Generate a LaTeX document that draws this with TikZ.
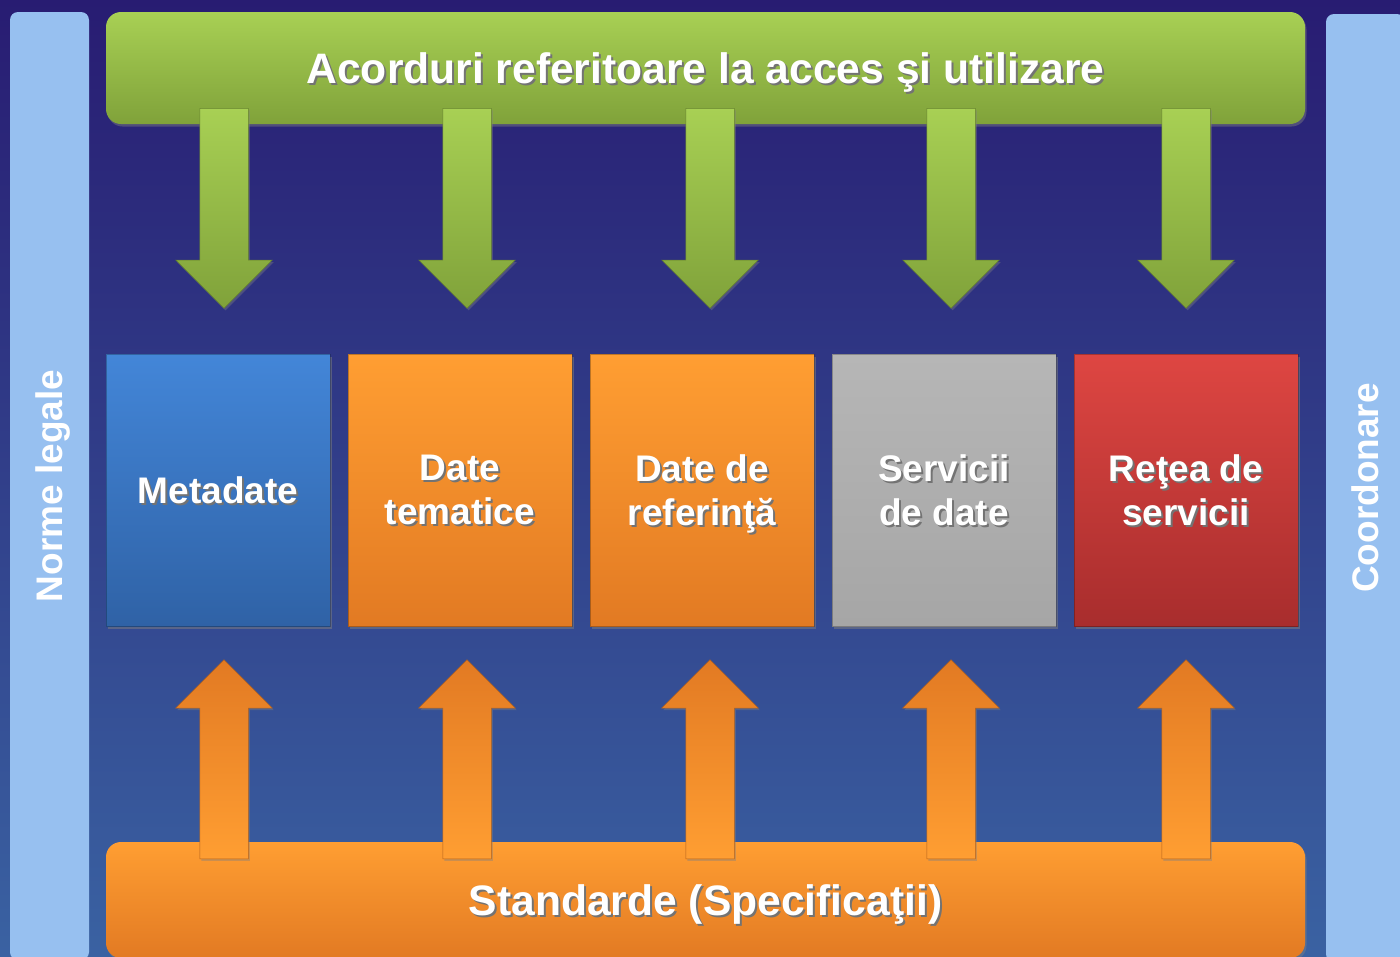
\documentclass[tikz,border=0pt]{standalone}
\usepackage{fontspec}
\setmainfont{Liberation Sans}
\usetikzlibrary{shapes.arrows,shadows}

\definecolor{bgtop}{RGB}{40,28,114}
\definecolor{bgmid}{RGB}{45,54,136}
\definecolor{bgbot}{RGB}{58,98,162}
\definecolor{sidecol}{RGB}{151,192,240}
\definecolor{greenlt}{RGB}{168,208,84}
\definecolor{greendk}{RGB}{128,162,58}
\definecolor{orangelt}{RGB}{255,158,50}
\definecolor{orangedk}{RGB}{226,122,35}
\definecolor{bluelt}{RGB}{67,134,216}
\definecolor{bluedk}{RGB}{47,98,166}
\definecolor{greylt}{RGB}{182,182,182}
\definecolor{greydk}{RGB}{166,166,166}
\definecolor{redlt}{RGB}{222,70,66}
\definecolor{reddk}{RGB}{168,45,45}

% white text with a dark shadow below it (no depth, so caps sit centred)
\newcommand{\shtext}[1]{\raisebox{0pt}[\height][0pt]{\makebox[0pt][l]{\hspace*{2pt}\raisebox{-2pt}{\color{black!55}#1}}#1}}

\begin{document}
\begin{tikzpicture}[x=1pt,y=-1pt,
    sidebar/.style={rectangle, rounded corners=8pt, fill=sidecol, rotate=90,
        minimum width=948pt, minimum height=79pt, inner sep=0pt, text=white,
        text depth=0pt, font=\fontsize{37}{44}\selectfont\bfseries},
    bigbar/.style={rectangle, rounded corners=15pt, minimum width=1199pt, inner sep=0pt,
        text=white, font=\fontsize{42.6}{48}\selectfont\bfseries,
        drop shadow={shadow xshift=1.5pt, shadow yshift=-2.5pt, opacity=.45}},
    box/.style={rectangle, minimum width=224pt, minimum height=272pt, inner sep=0pt,
        align=center, text=white, font=\fontsize{37}{44}\selectfont\bfseries,
        draw=black, draw opacity=.25, line width=.8pt,
        drop shadow={shadow xshift=2pt, shadow yshift=-3pt, opacity=.5}},
    downarrow/.style={single arrow, rotate=-90, anchor=tail, minimum height=200pt,
        minimum width=96pt, inner xsep=0pt, inner ysep=24pt, single arrow head extend=24pt,
        top color=greenlt, bottom color=greendk, draw=greendk!80!black, line width=.5pt,
        drop shadow={shadow xshift=1.5pt, shadow yshift=-2pt, opacity=.4}},
    uparrow/.style={single arrow, rotate=90, anchor=tail, minimum height=199pt,
        minimum width=96pt, inner xsep=0pt, inner ysep=24pt, single arrow head extend=24pt,
        top color=orangedk, bottom color=orangelt, draw=orangedk!80!black, line width=.5pt,
        drop shadow={shadow xshift=1.5pt, shadow yshift=-2pt, opacity=.4}}]

    \useasboundingbox (0,0) rectangle (1400,956);
    \clip (0,0) rectangle (1400,956);
    \shade [top color=bgtop, middle color=bgmid, bottom color=bgbot] (0,0) rectangle (1400,956);

    % side bars
    \node [sidebar] (legal) at (49.5,486) {Norme legale};
    \node [sidebar] (coord) at (1365.5,488) {Coordonare};

    % top and bottom bars
    \node [bigbar, minimum height=112pt, top color=greenlt, bottom color=greendk] (agree) at (705.5,68)
        {\shtext{Acorduri referitoare la acces şi utilizare}};
    \node [bigbar, minimum height=116pt, top color=orangelt, bottom color=orangedk] (std) at (705.5,900)
        {\shtext{Standarde (Specificaţii)}};

    % the five components
    \node [box, top color=bluelt, bottom color=bluedk] (meta) at (218,490) {\shtext{Metadate}};
    \node [box, top color=orangelt, bottom color=orangedk] (them) at (460,490) {\shtext{Date}\\\shtext{tematice}};
    \node [box, top color=orangelt, bottom color=orangedk] (ref) at (702,490) {\shtext{Date de}\\\shtext{referinţă}};
    \node [box, top color=greylt, bottom color=greydk] (serv) at (944,490) {\shtext{Servicii}\\\shtext{de date}};
    \node [box, top color=redlt, bottom color=reddk] (net) at (1186,490) {\shtext{Reţea de}\\\shtext{servicii}};

    % arrows from the agreements
    \node [downarrow] (ga1) at (224,108) {};
    \node [downarrow] (ga2) at (467,108) {};
    \node [downarrow] (ga3) at (710,108) {};
    \node [downarrow] (ga4) at (951,108) {};
    \node [downarrow] (ga5) at (1186,108) {};

    % arrows from the standards
    \node [uparrow] (oa1) at (224,859) {};
    \node [uparrow] (oa2) at (467,859) {};
    \node [uparrow] (oa3) at (710,859) {};
    \node [uparrow] (oa4) at (951,859) {};
    \node [uparrow] (oa5) at (1186,859) {};
\end{tikzpicture}
\end{document}
